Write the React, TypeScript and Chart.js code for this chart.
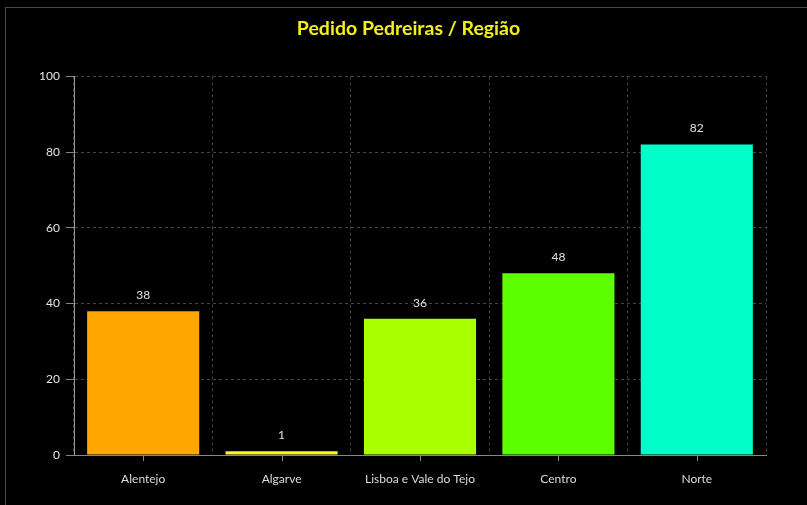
import React, { useEffect, useRef } from "react";
import { Chart, registerables } from "chart.js";

Chart.register(...registerables);

const categories = ["Alentejo", "Algarve", "Lisboa e Vale do Tejo", "Centro", "Norte"];
const values = [38, 1, 36, 48, 82];
const barColors = ["#ffa600", "#f7f52c", "#aaff00", "#5cff00", "#00ffc8"];
const yTicks = [0, 20, 40, 60, 80, 100];
const titleText = "Pedido Pedreiras / Região";

const FONT = "Lato, 'Open Sans', sans-serif";

const xTickMarks = {
  id: "xTickMarks",
  afterDraw(chart: any) {
    const ctx = chart.ctx;
    const xs = chart.scales.x;
    const bottom = chart.chartArea.bottom;
    ctx.save();
    ctx.strokeStyle = "#888888";
    ctx.lineWidth = 1;
    for (let i = 0; i < categories.length; i++) {
      const px = Math.round(xs.getPixelForValue(i)) + 0.5;
      ctx.beginPath();
      ctx.moveTo(px, bottom);
      ctx.lineTo(px, bottom + 6);
      ctx.stroke();
    }
    ctx.restore();
  },
};

const valueLabels = {
  id: "valueLabels",
  afterDatasetsDraw(chart: any) {
    const ctx = chart.ctx;
    const meta = chart.getDatasetMeta(0);
    ctx.save();
    ctx.fillStyle = "#e0e0e0";
    ctx.font = `12px ${FONT}`;
    ctx.textAlign = "center";
    ctx.textBaseline = "middle";
    meta.data.forEach((bar: any, i: number) => {
      ctx.fillText(String(values[i]), bar.x, bar.y - 16);
    });
    ctx.restore();
  },
};

export default function App() {
  const ref = useRef<HTMLCanvasElement | null>(null);

  useEffect(() => {
    document.body.style.margin = "0";
    document.body.style.background = "#000";
    const chart = new Chart(ref.current as HTMLCanvasElement, {
      type: "bar",
      data: {
        labels: categories,
        datasets: [
          {
            data: values,
            backgroundColor: barColors,
            borderWidth: 0,
            barPercentage: 0.9,
            categoryPercentage: 0.9,
          },
        ],
      },
      options: {
        animation: false,
        responsive: false,
        maintainAspectRatio: false,
        layout: { padding: { left: 10, right: 0, top: 0, bottom: 0 } },
        plugins: {
          legend: { display: false },
          tooltip: { enabled: false },
          title: {
            display: true,
            text: titleText,
            color: "#f2ef1e",
            font: { family: FONT, size: 19.5, weight: "bold" },
            padding: { top: 17, bottom: 36 },
          },
        },
        scales: {
          x: {
            afterFit: (s: any) => {
              s.height = 50;
            },
            grid: {
              offset: true,
              drawTicks: false,
              color: "#444444",
            },
            border: { display: true, color: "#888888", dash: [3, 3] },
            ticks: {
              color: "#dcdcdc",
              font: { family: FONT, size: 12 },
              padding: 17,
            },
          },
          y: {
            min: 0,
            max: 100,
            afterFit: (s: any) => {
              s.width = 64;
            },
            afterBuildTicks: (s: any) => {
              s.ticks = yTicks.map((v) => ({ value: v }));
            },
            grid: {
              color: "#444444",
              tickColor: "#888888",
              tickLength: 8,
            },
            border: { display: true, color: "#999999", dash: [3, 3] },
            ticks: {
              color: "#dfe6ee",
              font: { family: FONT, size: 12 },
              padding: 6,
            },
          },
          yR: {
            position: "right",
            min: 0,
            max: 100,
            afterFit: (s: any) => {
              s.width = 41;
            },
            grid: { display: false, drawOnChartArea: false },
            border: { display: false },
            ticks: { display: false },
          },
        },
      },
      plugins: [xTickMarks, valueLabels],
    } as any);
    return () => chart.destroy();
  }, []);

  return (
    <div style={{ position: "fixed", left: 0, top: 0, width: 807, height: 505, background: "#000", overflow: "hidden" }}>
      <div
        style={{
          position: "absolute",
          left: 5,
          top: 7,
          width: 900,
          height: 600,
          borderTop: "1px solid #4a4a4a",
          borderLeft: "1px solid #4a4a4a",
        }}
      />
      <canvas ref={ref} width={807} height={505} style={{ position: "absolute", left: 0, top: 0 }} />
    </div>
  );
}
